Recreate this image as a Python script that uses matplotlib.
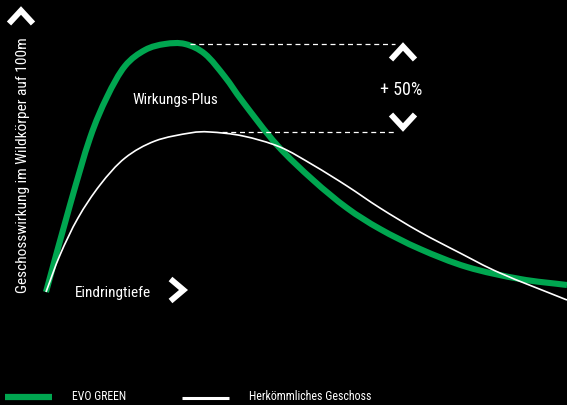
import matplotlib
matplotlib.use("Agg")
import matplotlib.pyplot as plt
from matplotlib import font_manager as fm
from matplotlib.path import Path
from matplotlib.patches import PathPatch
import numpy as np

avail = {f.name for f in fm.fontManager.ttflist}
fam = [f for f in ["Liberation Sans Narrow", "Roboto Condensed", "Open Sans Condensed", "Roboto", "DejaVu Sans"] if f in avail]
plt.rcParams['font.family'] = fam

# Curve samples (x = penetration depth, y = effect; chart units with y pointing down)
green_x = [46, 70, 90, 107, 125, 145, 165, 185, 205, 225, 243, 277, 313, 347, 380, 420, 467, 520, 567]
green_y = [292, 205, 138, 97, 66, 50, 44, 44, 54, 77, 102, 145, 180, 208, 229, 249, 267, 279, 285]
white_x = [46, 60, 78, 100, 125, 155, 190, 210, 243, 280, 313, 347, 380, 420, 460, 500, 567]
white_y = [292, 255, 218, 185, 158, 141, 133, 132, 136, 147, 165, 186, 208, 232, 253, 273, 300]

green_peak_y = 44
white_peak_y = 132

labels = {
    "ylabel": "Geschosswirkung im Wildkörper auf 100m",
    "xlabel": "Eindringtiefe",
    "plus": "Wirkungs-Plus",
    "pct": "+ 50%",
    "series1": "EVO GREEN",
    "series2": "Herkömmliches Geschoss",
}

GREEN = '#00a650'

fig = plt.figure(figsize=(5.67, 4.05), dpi=100, facecolor='black')
ax = fig.add_axes([0, 0, 1, 1])
ax.set_facecolor('black')
ax.set_xlim(0, 567)
ax.set_ylim(405, 0)
ax.axis('off')


def smooth_path(xs, ys):
    """Catmull-Rom curve through the given points, as cubic Bezier segments."""
    p = np.column_stack([xs, ys]).astype(float)
    ext = np.vstack([2 * p[0] - p[1], p, 2 * p[-1] - p[-2]])
    verts = [tuple(p[0])]
    codes = [Path.MOVETO]
    for i in range(1, len(ext) - 2):
        p0, p1, p2, p3 = ext[i - 1], ext[i], ext[i + 1], ext[i + 2]
        c1 = p1 + (p2 - p0) / 6.0
        c2 = p2 - (p3 - p1) / 6.0
        verts += [tuple(c1), tuple(c2), tuple(p2)]
        codes += [Path.CURVE4] * 3
    return Path(verts, codes)


ax.add_patch(PathPatch(smooth_path(green_x, green_y), facecolor='none', edgecolor=GREEN,
                       lw=4.4, capstyle='butt', zorder=2))
ax.add_patch(PathPatch(smooth_path(white_x, white_y), facecolor='none', edgecolor='white',
                       lw=1.2, capstyle='butt', zorder=3))

ax.plot([190, 395], [green_peak_y, green_peak_y], color='white', lw=0.9, dashes=(4, 3))
ax.plot([222, 395], [white_peak_y, white_peak_y], color='white', lw=0.9, dashes=(4, 3))


def chevron(cx, cy, w, h, direction):
    if direction == 'up':
        xs, ys = [cx - w, cx, cx + w], [cy + h, cy - h, cy + h]
    elif direction == 'down':
        xs, ys = [cx - w, cx, cx + w], [cy - h, cy + h, cy - h]
    else:
        xs, ys = [cx - h, cx + h, cx - h], [cy - w, cy, cy + w]
    ax.plot(xs, ys, color='white', lw=4.2, solid_joinstyle='miter', solid_capstyle='butt', zorder=4)


chevron(21, 17, 12, 6.5, 'up')
chevron(403, 53, 12, 6.5, 'up')
chevron(403, 121, 12, 6.5, 'down')
chevron(177, 290, 11, 6.5, 'right')

ax.text(23, 165, labels["ylabel"], rotation=90, color='white', fontsize=11.1, ha='center', va='center')
ax.text(75, 293, labels["xlabel"], color='white', fontsize=11, ha='left', va='center')
ax.text(132, 100, labels["plus"], color='white', fontsize=11, ha='left', va='center')
ax.text(401, 90, labels["pct"], color='white', fontsize=13, ha='center', va='center')

ax.plot([5, 52], [397, 397], color=GREEN, lw=4.5, solid_capstyle='butt')
ax.text(72, 396, labels["series1"], color='white', fontsize=8.5, ha='left', va='center')
ax.plot([182, 229], [397.5, 397.5], color='white', lw=2.2, solid_capstyle='butt')
ax.text(249, 396, labels["series2"], color='white', fontsize=8.6, ha='left', va='center')

fig.savefig('out.png', dpi=100, facecolor='black')
